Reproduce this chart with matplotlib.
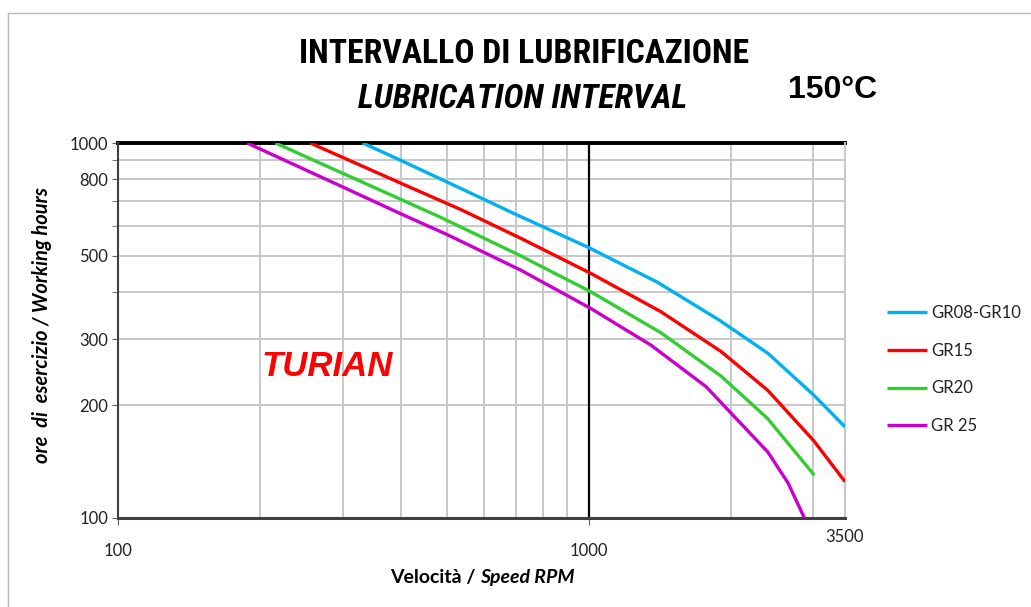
import matplotlib
matplotlib.use("Agg")
import matplotlib.pyplot as plt
from matplotlib.ticker import FixedLocator, NullFormatter, FixedFormatter
from matplotlib.lines import Line2D
from matplotlib.transforms import blended_transform_factory

# ---- data ----
blue_rpm = [331, 400, 500, 700, 1000, 1400, 1900, 2400, 3000, 3500]
blue_h = [1000, 897, 787, 645, 526, 425, 336, 275, 213, 175]

red_rpm = [256, 398, 484, 534, 717, 1010, 1422, 1909, 2399, 3000, 3500]
red_h = [1000, 782, 702, 665, 557, 449, 355, 278, 219, 161, 125]

green_rpm = [216, 297, 398, 484, 717, 1010, 1422, 1909, 2399, 3013]
green_h = [1000, 835, 708, 634, 500, 401, 312, 239, 184, 130]

mag_rpm = [188, 297, 398, 500, 717, 1010, 1355, 1774, 2399, 2649, 2870]
mag_h = [1000, 768, 648, 570, 458, 362, 289, 224, 150, 124, 100]

series_labels = ["GR08-GR10", "GR15", "GR20", "GR 25"]
series_colors = ["#00B0F0", "#FF0000", "#33CC33", "#CC00CC"]

y_ticks = [100, 200, 300, 500, 800, 1000]
y_minor = [400, 600, 700, 900]
x_ticks = [100, 1000]
x_minor = [200, 300, 400, 500, 600, 700, 800, 900, 2000, 3000]

NARROW = ["Roboto Condensed", "DejaVu Sans"]
BODY = ["Lato", "DejaVu Sans"]

W, H = 1031, 607
fig = plt.figure(figsize=(W / 100, H / 100), dpi=100)
fig.patch.set_facecolor("white")

ax = fig.add_axes([118 / W, 1 - 518 / H, (845 - 118) / W, (518 - 143) / H])
ax.set_xscale("log")
ax.set_yscale("log")
ax.set_xlim(100, 3500)
ax.set_ylim(100, 1000)

grid_c = "#C8C8C8"
for v in y_ticks[1:-1] + y_minor:
    ax.axhline(v, color=grid_c, lw=1.4, zorder=1)
for v in x_minor:
    ax.axvline(v, color=grid_c, lw=1.4, zorder=1)
ax.axvline(1000, color="black", lw=1.6, zorder=2)
ax.axhline(1000, color="black", lw=2.8, zorder=2, clip_on=False)

all_data = [(blue_rpm, blue_h), (red_rpm, red_h), (green_rpm, green_h), (mag_rpm, mag_h)]
for (xs, ys), lab, c in zip(all_data, series_labels, series_colors):
    ax.plot(xs, ys, color=c, lw=2.4, label=lab, zorder=3,
            solid_capstyle="butt", solid_joinstyle="round")

ax.spines["top"].set_visible(False)
ax.spines["right"].set_color(grid_c)
ax.spines["right"].set_linewidth(1.4)
ax.spines["bottom"].set_color("#404040")
ax.spines["bottom"].set_linewidth(2.2)
ax.spines["left"].set_color("#404040")
ax.spines["left"].set_linewidth(1.5)

ax.yaxis.set_major_locator(FixedLocator(y_ticks))
ax.yaxis.set_major_formatter(FixedFormatter([str(v) for v in y_ticks]))
ax.yaxis.set_minor_locator(FixedLocator(y_minor))
ax.yaxis.set_minor_formatter(NullFormatter())
ax.xaxis.set_major_locator(FixedLocator(x_ticks))
ax.xaxis.set_major_formatter(FixedFormatter([str(v) for v in x_ticks]))
ax.xaxis.set_minor_locator(FixedLocator([]))
ax.tick_params(axis="y", which="both", length=4, color="#606060", labelsize=12, pad=3)
ax.tick_params(axis="x", which="major", length=5, color="#606060", labelsize=12, pad=13)
for t in ax.get_xticklabels() + ax.get_yticklabels():
    t.set_fontfamily(BODY)
    t.set_color("#222222")
tr = blended_transform_factory(ax.transData, ax.transAxes)
ax.text(3500, -19 / 375, "3500", transform=tr, ha="center", va="center", fontsize=12,
        family=BODY, color="#222222")

# axis labels
fig.text(42 / W, 1 - 325 / H, "ore  di  esercizio / Working hours", rotation=90,
         ha="center", va="center", fontsize=14.5, fontweight="bold", fontstyle="italic",
         family=BODY)
fig.text(480 / W, 1 - 578 / H, "Velocità / ", ha="right", va="center", fontsize=14,
         fontweight="bold", family=BODY)
fig.text(480 / W, 1 - 578 / H, "Speed RPM", ha="left", va="center", fontsize=14,
         fontweight="bold", fontstyle="italic", family=BODY)

# titles
fig.text(524 / W, 1 - 54 / H, "INTERVALLO DI LUBRIFICAZIONE", ha="center", va="center",
         fontsize=24.3, fontweight="bold", fontstretch="condensed", family=NARROW)
fig.text(523 / W, 1 - 99 / H, "LUBRICATION INTERVAL", ha="center", va="center",
         fontsize=24.5, fontweight="bold", fontstyle="italic", fontstretch="condensed",
         family=NARROW)
fig.text(833 / W, 1 - 90 / H, "150°C", ha="center", va="center", fontsize=23,
         fontweight="bold", family=["Liberation Sans", "DejaVu Sans"])

# brand
ax.text(202, 253, "TURIAN", ha="left", va="center", color="#FF0000", fontsize=25,
        fontweight="bold", fontstyle="italic", family=["Liberation Sans", "DejaVu Sans"])

# legend
leg = fig.legend(loc="upper left", bbox_to_anchor=(872 / W, 1 - 290 / H), frameon=False,
                 handlelength=2.4, handletextpad=0.25, labelspacing=1.3,
                 prop={"family": BODY, "size": 12})
for t in leg.get_texts():
    t.set_color("#222222")

# outer frame
fig.add_artist(Line2D([8 / W, 8 / W], [0, 1 - 13 / H], transform=fig.transFigure, color="#BBBBBB", lw=1))
fig.add_artist(Line2D([8 / W, 1], [1 - 13 / H, 1 - 13 / H], transform=fig.transFigure, color="#BBBBBB", lw=1))

fig.savefig("out.png", dpi=100)
